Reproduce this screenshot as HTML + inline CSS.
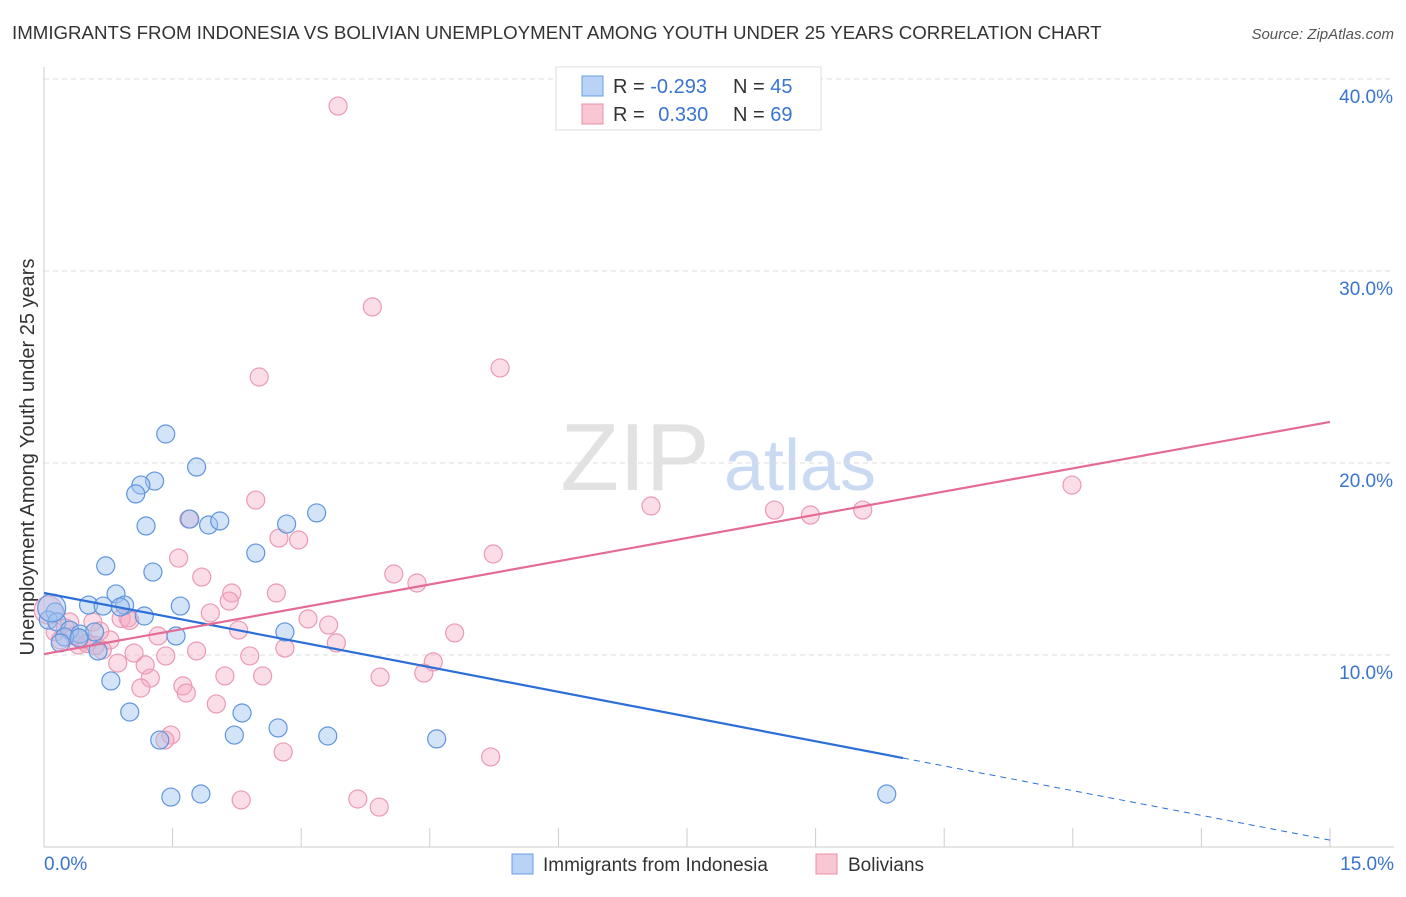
<!DOCTYPE html>
<html><head><meta charset="utf-8"><style>
body{margin:0;background:#fff;font-family:"Liberation Sans",sans-serif;}
svg text{font-family:"Liberation Sans",sans-serif;}
</style></head><body>
<svg id="chart" width="1406" height="892" xmlns="http://www.w3.org/2000/svg">
<text x="12" y="39" font-size="18.7" fill="#333">IMMIGRANTS FROM INDONESIA VS BOLIVIAN UNEMPLOYMENT AMONG YOUTH UNDER 25 YEARS CORRELATION CHART</text>
<text x="1394" y="39" font-size="15" fill="#555" text-anchor="end" font-style="italic">Source: ZipAtlas.com</text>
<text transform="translate(34,457) rotate(-90)" font-size="20" fill="#333" text-anchor="middle">Unemployment Among Youth under 25 years</text>
<g>
<text x="635" y="490" font-size="96" fill="#e2e2e2" font-family="Liberation Serif" text-anchor="middle">ZIP</text>
<text x="800" y="490" font-size="72" fill="#c9daf2" text-anchor="middle">atlas</text>
</g>
<g id="grid"></g>
<g id="axes"></g>
<g id="pts"></g>
<g id="lines"></g>
<g>
<rect x="556" y="67" width="265" height="63" fill="#fff" stroke="#ddd"/>
<rect x="582" y="76" width="21" height="20" fill="#b8d3f5" stroke="#6a9de0"/>
<rect x="582" y="104" width="21" height="20" fill="#f9c6d4" stroke="#e890aa"/>
<text x="613" y="93" font-size="20" fill="#333">R = <tspan fill="#3a74d0">-0.293</tspan></text>
<text x="733" y="93" font-size="20" fill="#333">N = <tspan fill="#3a74d0">45</tspan></text>
<text x="613" y="121" font-size="20" fill="#333">R = <tspan fill="#3a74d0" dx="8">0.330</tspan></text>
<text x="733" y="121" font-size="20" fill="#333">N = <tspan fill="#3a74d0">69</tspan></text>
</g>
<g>
<rect x="512" y="854" width="21" height="20" fill="#b8d3f5" stroke="#6a9de0"/>
<text x="543" y="871" font-size="19" fill="#333">Immigrants from Indonesia</text>
<rect x="816" y="854" width="21" height="20" fill="#f9c6d4" stroke="#e890aa"/>
<text x="848" y="871" font-size="19" fill="#333">Bolivians</text>
</g>
</svg>
<script>
const yTicks=[10,20,30,40];
const xTickLabels=["0.0%","15.0%"];
const blueX=[1.42,1.78,1.29,1.13,1.07,1.19,1.70,1.92,2.05,2.83,3.18,2.47,0.72,1.27,0.84,0.52,0.94,1.59,1.17,0.69,0.13,0.05,0.15,0.30,0.42,0.59,0.24,0.41,0.19,0.63,1.54,2.81,0.78,1.00,2.31,1.35,2.22,2.73,3.31,4.58,1.48,1.83,9.83,0.09,0.89];
const blueY=[21.51,19.79,19.06,18.85,18.39,16.72,17.08,16.77,16.98,16.82,17.40,15.31,14.64,14.32,13.18,12.60,12.60,12.55,12.03,12.55,12.24,11.82,11.72,11.30,11.09,11.20,10.94,10.89,10.63,10.21,10.99,11.20,8.65,7.03,6.98,5.57,5.83,6.20,5.78,5.63,2.60,2.76,2.76,12.45,12.5];
const pinkX=[3.43,3.83,5.32,2.51,11.99,2.47,7.08,8.52,8.94,9.55,1.69,2.74,2.97,5.24,1.57,4.08,4.35,1.84,2.19,2.71,2.16,1.94,3.08,3.32,2.27,4.79,0.98,0.57,0.30,1.33,0.77,3.41,2.81,1.78,1.42,2.40,0.68,0.40,0.19,0.86,1.18,4.54,4.43,1.24,2.55,2.11,3.92,1.62,1.13,1.66,2.01,1.48,1.41,2.79,5.21,2.30,3.66,3.91,0.05,0.13,0.44,0.65,0.90,0.35,0.50,1.00,0.25,0.60,1.05];
const pinkY=[38.59,28.13,24.95,24.48,18.85,18.07,17.76,17.55,17.29,17.55,17.08,16.09,15.99,15.26,15.05,14.22,13.75,14.06,13.23,13.23,12.81,12.19,11.88,11.56,11.30,11.15,11.93,11.72,11.72,10.99,10.78,10.63,10.36,10.21,9.95,9.95,10.26,10.52,10.78,9.58,9.48,9.64,9.06,8.80,8.91,8.91,8.85,8.39,8.28,8.02,7.45,5.83,5.57,4.95,4.69,2.45,2.50,2.08,12.34,11.20,10.78,11.25,11.9,11.0,10.6,11.8,11.4,10.5,10.1];
const blueLine=[13.23,0.36];
const blueSolidEnd=10.02;
const pinkLine=[10.05,22.14];
const NS="http://www.w3.org/2000/svg";
const xs=v=>44+v*(1286/15);
const ys=v=>847-v*19.2;
function mk(tag,attrs,parent){const e=document.createElementNS(NS,tag);for(const k in attrs)e.setAttribute(k,attrs[k]);document.getElementById(parent).appendChild(e);return e;}
let e=mk('line',{x1:44,y1:79,x2:1394,y2:79,stroke:'#ddd','stroke-dasharray':'5,4'},'grid');


yTicks.forEach(t=>{
 const g=mk('line',{x1:44,y1:ys(t),x2:1394,y2:ys(t),stroke:'#ddd','stroke-dasharray':'5,4'},'grid');
 
 
 const l=mk('text',{x:1393,y:ys(t)+24,'font-size':19,fill:'#3a74d0','text-anchor':'end'},'axes');
 l.textContent=t.toFixed(1)+'%';
 
 
});
e=mk('line',{x1:44,y1:67,x2:44,y2:847,stroke:'#ccc'},'axes');


e=mk('line',{x1:44,y1:847,x2:1394,y2:847,stroke:'#ccc'},'axes');


for(let i=0;i<=10;i++){const t=mk('line',{x1:xs(i*1.5),y1:828,x2:xs(i*1.5),y2:847,stroke:'#ccc'},'axes');
 
 }
e=mk('text',{x:44,y:870,'font-size':19,fill:'#3a74d0'},'axes');e.textContent=xTickLabels[0];


e=mk('text',{x:1394,y:870,'font-size':19,fill:'#3a74d0','text-anchor':'end'},'axes');e.textContent=xTickLabels[1];


pinkX.forEach((x,i)=>{const c=mk('circle',{cx:xs(x),cy:ys(pinkY[i]),r:i==58?14:9,fill:'rgba(245,170,195,0.4)',stroke:'#eb9ab2','stroke-width':1.2},'pts');
 
 });
blueX.forEach((x,i)=>{const c=mk('circle',{cx:xs(x),cy:ys(blueY[i]),r:i==43?14:9,fill:'rgba(160,195,240,0.45)',stroke:'#5f95de','stroke-width':1.2},'pts');
 
 });
const by=x=>blueLine[0]+(blueLine[1]-blueLine[0])*x/15;
e=mk('line',{x1:xs(0),y1:ys(blueLine[0]),x2:xs(blueSolidEnd),y2:ys(by(blueSolidEnd)),stroke:'#2d6fd6','stroke-width':2.2},'lines');


e=mk('line',{x1:xs(blueSolidEnd),y1:ys(by(blueSolidEnd)),x2:xs(15),y2:ys(blueLine[1]),stroke:'#2d6fd6','stroke-width':1,'stroke-dasharray':'6,5'},'lines');


e=mk('line',{x1:xs(0),y1:ys(pinkLine[0]),x2:xs(15),y2:ys(pinkLine[1]),stroke:'#e46b95','stroke-width':2.2},'lines');


</script>
</body></html>
